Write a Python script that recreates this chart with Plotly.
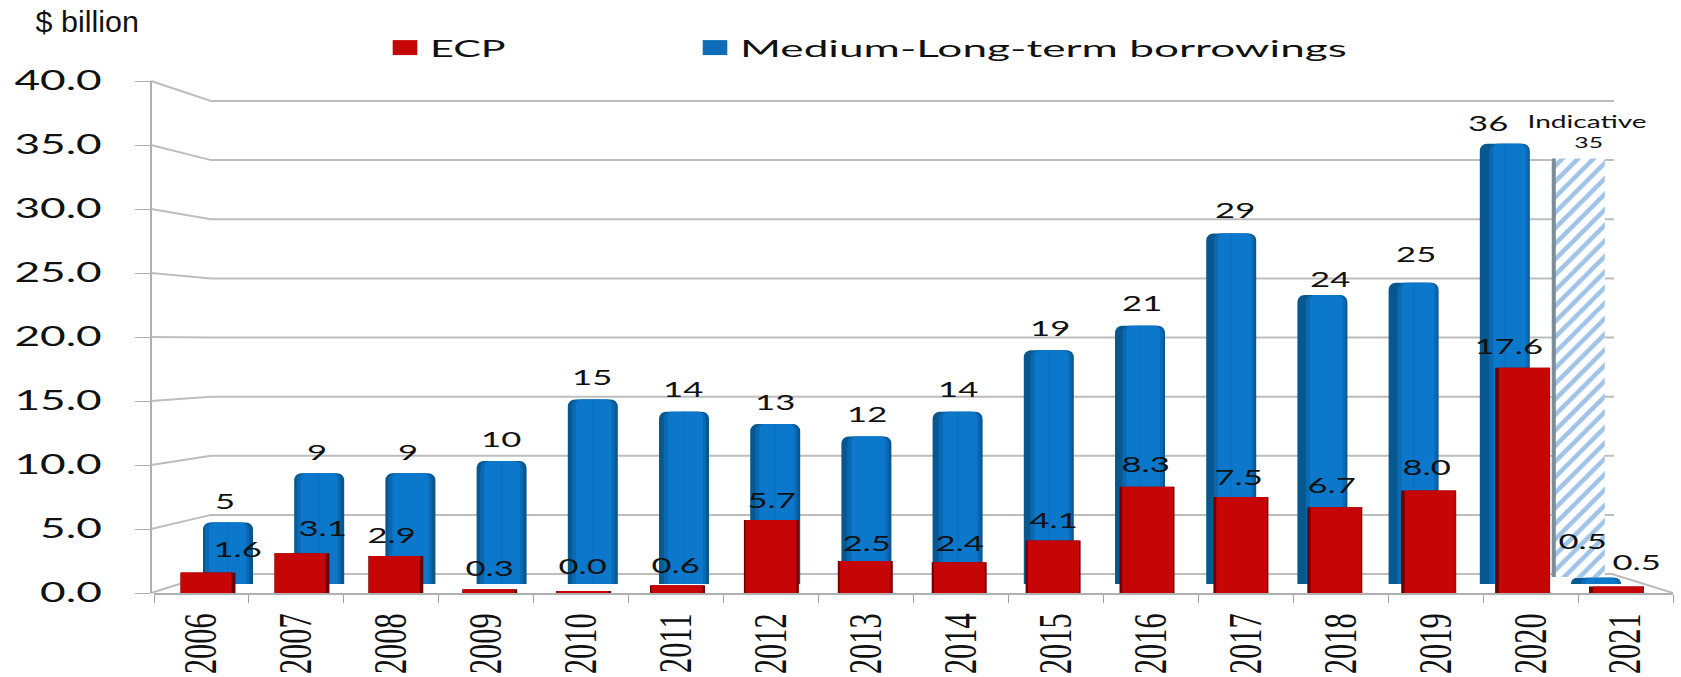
import plotly.graph_objects as go

# ---------- data ----------
years = ["2006", "2007", "2008", "2009", "2010", "2011", "2012", "2013",
         "2014", "2015", "2016", "2017", "2018", "2019", "2020", "2021"]
ecp_values = [1.6, 3.1, 2.9, 0.3, 0.15, 0.6, 5.7, 2.5, 2.4, 4.1, 8.3, 7.5, 6.7, 8.0, 17.6, 0.5]
ecp_labels = ["1.6", "3.1", "2.9", "0.3", "0.0", "0.6", "5.7", "2.5", "2.4", "4.1", "8.3", "7.5", "6.7", "8.0", "17.6", "0.5"]
mlt_values = [5, 9, 9, 10, 15, 14, 13, 12, 14, 19, 21, 28.5, 23.5, 24.5, 35.8, 0.5]
mlt_labels = ["5", "9", "9", "10", "15", "14", "13", "12", "14", "19", "21", "29", "24", "25", "36", "0.5"]
indicative_year = ["2020"]
indicative_top = [34.6]
indicative_base = [0.57]
y_ticks = [0, 5, 10, 15, 20, 25, 30, 35, 40]

# ---------- layout geometry (pixels of the 1681x677 page) ----------
W, H = 1681, 677
n = len(years)
front_zero, front_top = 593, 81          # front y axis, 0 and 40
back_zero, back_top = 574, 101           # back wall, 0 and 40
blue_zero, blue_scale = 584, 12.3        # plane of the blue bars
blue_c0, blue_step, blue_w = 228, 91.2, 50
red_c0, red_step, red_w = 208, 93.9, 55
wall_x = [151, 211, 1614]
floor_x = [1612, 1673]

# label nudges in pixels
mlt_dx = [-3, -2, -2, -1, -1, -1, 0, 1, 0, 1, 2, 4, 8, 2, -17, -14]
mlt_dy = [22, 22, 22, 23, 23, 23, 23, 23, 23, 23, 23, 24, 16, 29, 21, 37]
ecp_dx = [29, 21, -4, 0, -1, -2, 0, 1, 0, 0, -2, -2, -3, -2, -14, 20]
ecp_dy = [24, 26, 21, 22, 26, 21, 21, 19, 20, 21, 23, 21, 23, 24, 22, 25]


def dom_x(a, b):
    return [a / W, b / W]


def dom_y(bottom_px, top_px):
    return [1 - bottom_px / H, 1 - top_px / H]


def front_px(v):
    return front_zero - (front_zero - front_top) * v / 40


back_k = 40 / (back_zero - back_top)


def back_val_of_px(p):
    return (back_zero - p) * back_k


fig = go.Figure()

# ---------- back wall, floor: drawn first so that bars sit over them ----------
grid_x, grid_y = [], []
for t in y_ticks:
    grid_x += wall_x + [None]
    grid_y += [back_val_of_px(front_px(t)), t, t, None]
grid_x += floor_x
grid_y += [0, back_val_of_px(front_zero)]
fig.add_trace(go.Scatter(x=grid_x, y=grid_y, mode="lines", xaxis="x", yaxis="y",
                         line=dict(color="#bdbdbd", width=2), cliponaxis=False,
                         showlegend=False, hoverinfo="skip"))


def bar_layer(values, color, axes, step, half, left, right, radius=0):
    offs = [(-half + l) / step for l in left]
    wid = [(2 * half - l - r) / step for l, r in zip(left, right)]
    fig.add_trace(go.Bar(x=years, y=values, xaxis=axes[0], yaxis=axes[1], offset=offs, width=wid,
                         marker=dict(color=color, line=dict(width=0), cornerradius=radius),
                         showlegend=False, cliponaxis=False, hoverinfo="skip"))


ts = [i / (n - 1) for i in range(n)]
zero = [0] * n

# ---------- blue bars ----------
bar_layer(mlt_values, "#07588f", ("x2", "y2"), blue_step, blue_w / 2, zero, zero, 7)
L1 = [2 + 8 * t for t in ts]
R1 = [1 + 3 * (1 - t) for t in ts]
bar_layer(mlt_values, "#0a69b2", ("x2", "y2"), blue_step, blue_w / 2, L1, R1, 7)
L2 = [l + 4 for l in L1]
R2 = [r + 3 for r in R1]
bar_layer(mlt_values, "#0c78cb", ("x2", "y2"), blue_step, blue_w / 2, L2, R2, 6)
# zero-width entry that only carries the square legend swatch
fig.add_trace(go.Bar(x=years, y=mlt_values, xaxis="x2", yaxis="y2", width=[0] * n,
                     marker=dict(color="#0e6cb8", line=dict(width=0)),
                     name="Medium-Long-term borrowings", showlegend=True, legendrank=2, hoverinfo="skip"))

# ---------- indicative hatched bar ----------
ind_off = 47 / blue_step
ind_wid = 53 / blue_step
fig.add_trace(go.Bar(x=indicative_year, y=[indicative_top[0] - indicative_base[0]], base=indicative_base,
                     xaxis="x2", yaxis="y2", offset=ind_off, width=ind_wid,
                     marker=dict(color="white", line=dict(width=0),
                                 pattern=dict(shape="/", size=11, solidity=0.42,
                                              fgcolor="#3f8ad0", bgcolor="white")),
                     showlegend=False, cliponaxis=False, hoverinfo="skip"))
fig.add_trace(go.Bar(x=indicative_year, y=[indicative_top[0] - indicative_base[0]], base=indicative_base,
                     xaxis="x2", yaxis="y2", offset=ind_off, width=4 / blue_step,
                     marker=dict(color="#7d8c99", line=dict(width=0)),
                     showlegend=False, cliponaxis=False, hoverinfo="skip"))

# ---------- red bars ----------
bar_layer(ecp_values, "#6f0000", ("x3", "y3"), red_step, red_w / 2, zero, zero, 0)
LF = [4 * t for t in ts]
RF = [4 * (1 - t) for t in ts]
fig.add_trace(go.Bar(x=years, y=ecp_values, xaxis="x3", yaxis="y3",
                     offset=[(-red_w / 2 + l) / red_step for l in LF],
                     width=[(red_w - l - r) / red_step for l, r in zip(LF, RF)],
                     marker=dict(color="#c60606", line=dict(width=0)),
                     name="ECP", showlegend=True, legendrank=1, cliponaxis=False, hoverinfo="skip"))

# ---------- carrier for the year axis ----------
fig.add_trace(go.Scatter(x=years, y=[0] * n, xaxis="x4", yaxis="y3", mode="markers",
                         marker=dict(opacity=0, size=1), showlegend=False, hoverinfo="skip"))

# ---------- value labels ----------
annos = []
lab_font = dict(family="Lato", size=21, color="#111111")
for i in range(n):
    annos.append(dict(x=i, y=mlt_values[i], xref="x2", yref="y2", text=mlt_labels[i], showarrow=False,
                      xshift=mlt_dx[i], yshift=mlt_dy[i], font=lab_font, xanchor="center", yanchor="middle"))
    annos.append(dict(x=i, y=ecp_values[i], xref="x3", yref="y3", text=ecp_labels[i], showarrow=False,
                      xshift=ecp_dx[i], yshift=ecp_dy[i], font=lab_font, xanchor="center", yanchor="middle"))
annos.append(dict(x=years.index("2020"), y=indicative_top[0], xref="x2", yref="y2", text="Indicative", showarrow=False,
                  xshift=82, yshift=37, font=dict(family="Lato", size=17, color="#111111"),
                  xanchor="center", yanchor="middle"))
annos.append(dict(x=years.index("2020"), y=indicative_top[0], xref="x2", yref="y2", text="35", showarrow=False,
                  xshift=84, yshift=16, font=dict(family="Lato", size=15, color="#111111"),
                  xanchor="center", yanchor="middle"))
annos.append(dict(x=36 / W, y=1 - 22 / H, xref="paper", yref="paper", text="$ billion", showarrow=False,
                  font=dict(family="Liberation Sans", size=29, color="#111111"),
                  xanchor="left", yanchor="middle"))

hidden = dict(showticklabels=False, showline=False, ticks="", showgrid=False, zeroline=False, fixedrange=True)
cat = dict(type="category", categoryorder="array", categoryarray=years, range=[-0.5, n - 0.5])

fig.update_layout(
    width=W, height=H, margin=dict(l=0, r=0, t=0, b=0, pad=0, autoexpand=False),
    paper_bgcolor="white", plot_bgcolor="rgba(0,0,0,0)",
    barmode="overlay", annotations=annos,
    legend=dict(orientation="h", xref="paper", yref="paper", x=380 / W, y=1 - 48 / H,
                xanchor="left", yanchor="middle",
                font=dict(family="Lato", size=24, color="#111111"),
                entrywidth=255, entrywidthmode="pixels", itemwidth=40, bgcolor="rgba(0,0,0,0)",
                traceorder="normal"),
    # wall plane: x in page pixels, y in back-wall units
    xaxis=dict(domain=[0, 1], range=[0, W], anchor="y", **hidden),
    yaxis=dict(domain=[0, 1], range=[(back_zero - H) * back_k, back_zero * back_k], anchor="x", **hidden),
    # blue plane
    xaxis2=dict(domain=dom_x(blue_c0 - blue_step / 2, blue_c0 + blue_step * (n - 0.5)), anchor="y2", **cat, **hidden),
    yaxis2=dict(domain=dom_y(blue_zero, blue_zero - 40 * blue_scale), range=[0, 40], anchor="x2", **hidden),
    # red / front plane, with the visible value axis
    xaxis3=dict(domain=dom_x(red_c0 - red_step / 2, red_c0 + red_step * (n - 0.5)), anchor="y3", **cat, **hidden),
    yaxis3=dict(domain=dom_y(front_zero, front_top), range=[0, 40], anchor="free", position=wall_x[0] / W,
                tickvals=y_ticks, tickformat=".1f", ticks="outside", ticklen=15, tickwidth=1, tickcolor="#b0b0b0",
                showline=True, linecolor="#b0b0b0", linewidth=2, showgrid=False, zeroline=False,
                ticklabelstandoff=28, fixedrange=True,
                tickfont=dict(family="Lato", size=26, color="#111111")),
    # year axis
    xaxis4=dict(domain=dom_x(154, 1673), anchor="y3", **cat, tickson="boundaries", ticks="outside", ticklen=8,
                tickwidth=1, tickcolor="#a0a0a0", showline=True, linecolor="#b0b0b0", linewidth=2,
                showgrid=False, zeroline=False, tickangle=-90, fixedrange=True, ticklabelstandoff=0,
                tickfont=dict(family="Liberation Sans Narrow", size=46, color="#111111")),
)

post = r"""
document.body.style.margin = '0';
document.body.style.overflow = 'hidden';
function stretch(el, k) {
  if (el.dataset.stretched) return;
  var w = el.getComputedTextLength();
  if (!w) return;
  el.setAttribute('lengthAdjust', 'spacingAndGlyphs');
  el.setAttribute('textLength', (w * k).toFixed(1));
  el.dataset.stretched = '1';
}
function applyAll() {
  document.querySelectorAll('.yaxislayer-above text').forEach(function (e) { stretch(e, 1.7); });
  document.querySelectorAll('.xaxislayer-above text').forEach(function (e) { stretch(e, 0.66); });
  document.querySelectorAll('.legendtext').forEach(function (e) {
    stretch(e, e.textContent.indexOf('Medium') >= 0 ? 1.84 : 1.72);
  });
  document.querySelectorAll('text.annotation-text').forEach(function (e) {
    var s = e.textContent;
    stretch(e, s.indexOf('billion') >= 0 ? 1.05 : 1.65);
  });
  document.querySelectorAll('.legend .scrollbox').forEach(function (e) { e.removeAttribute('clip-path'); });
  document.querySelectorAll('.legend').forEach(function (e) { e.style.overflow = 'visible'; });
  document.querySelectorAll('.legendpoints path').forEach(function (e) {
    if (e.dataset.scaled) return;
    e.setAttribute('transform', (e.getAttribute('transform') || '') + ' scale(2.05,1.25)');
    e.dataset.scaled = '1';
  });
}
applyAll();
setTimeout(applyAll, 150);
"""
fig.write_html("out.html", post_script=post, config=dict(displayModeBar=False))
